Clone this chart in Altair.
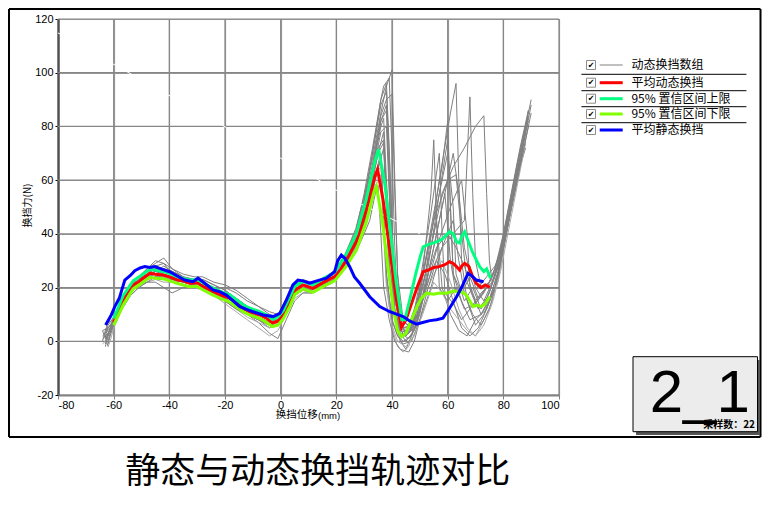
import altair as alt
import pandas as pd

# ---------------- data ----------------
X_TICKS = [-80, -60, -40, -20, 0, 20, 40, 60, 80, 100]
Y_TICKS = [-20, 0, 20, 40, 60, 80, 100, 120]

# shared x sampling of the first part of every dynamic trace
GRAY_X_A = [-60, -57, -54, -51, -48, -45, -42, -39, -35, -31, -28, -24, -20, -16,
            -12, -8, -4, -1, 2, 5, 8, 11, 15, 19, 23, 27, 30]

GRAY_START = [
    [(-63, 0), (-62, 3)],
    [(-62, -2), (-63, 2), (-61, 4)],
    [(-63, 3), (-62, 6)],
    [(-64, -1), (-62, 1)],
    [(-63, 1), (-64, 4), (-62, 5)],
    [(-62, -1), (-61, 3)],
    [(-63, 2), (-62, 5)],
    [(-64, 0), (-63, 4)],
    [(-62, 2), (-61, 6)],
    [(-63, -2), (-62, 2)],
    [(-64, 2), (-62, 4)],
    [(-63, 1), (-61, 5)],
    [(-62, -2), (-61, 1)],
    [(-63, 4), (-62, 7)],
    [(-64, 1), (-62, 3)],
    [(-63, -1), (-62, 3)],
    [(-62, 0), (-61, 4)],
    [(-63, 3), (-62, 5)],
]

GRAY_Y_A = [
    [8, 15, 20, 23, 26, 27, 26, 25, 23, 22, 22, 20, 18, 15, 12, 10, 8, 9, 15, 20, 22, 21, 22, 25, 31, 40, 50],
    [6, 13, 18, 21, 23, 24, 24, 23, 22, 21, 20, 18, 15, 12, 10, 8, 5, 6, 11, 17, 19, 18, 20, 23, 28, 36, 44],
    [9, 16, 21, 24, 27, 29, 31, 27, 24, 23, 23, 21, 19, 16, 13, 11, 9, 10, 16, 21, 23, 22, 23, 26, 32, 42, 54],
    [5, 12, 17, 20, 22, 23, 22, 22, 21, 20, 19, 17, 14, 11, 8, 5, 2, 4, 10, 16, 18, 18, 20, 22, 27, 34, 42],
    [7, 14, 19, 23, 25, 26, 25, 24, 23, 22, 21, 19, 17, 14, 11, 9, 7, 7, 12, 18, 20, 19, 21, 23, 28, 36, 47],
    [6, 13, 18, 22, 25, 28, 29, 25, 23, 23, 22, 20, 20, 18, 15, 13, 11, 10, 14, 19, 21, 20, 22, 25, 30, 38, 48],
    [8, 15, 19, 21, 22, 22, 20, 18, 20, 21, 20, 18, 16, 13, 10, 7, 3, 1, 8, 15, 18, 18, 20, 22, 27, 33, 40],
    [7, 14, 20, 23, 25, 27, 27, 26, 24, 22, 21, 19, 17, 14, 11, 9, 7, 9, 14, 19, 21, 20, 22, 24, 29, 38, 52],
    [9, 16, 21, 23, 24, 25, 26, 25, 23, 22, 22, 20, 18, 15, 12, 10, 8, 8, 13, 19, 21, 20, 21, 24, 29, 37, 45],
    [6, 12, 17, 20, 22, 24, 24, 23, 22, 21, 20, 19, 17, 14, 12, 10, 8, 9, 14, 19, 21, 20, 22, 25, 31, 40, 52],
    [7, 14, 19, 22, 24, 26, 28, 26, 24, 22, 21, 20, 18, 16, 13, 10, 8, 7, 12, 18, 20, 19, 21, 23, 28, 35, 44],
    [8, 15, 20, 23, 25, 26, 25, 24, 22, 21, 22, 19, 16, 13, 10, 8, 6, 7, 13, 18, 20, 19, 21, 24, 30, 39, 50],
    [5, 12, 18, 21, 24, 25, 24, 23, 21, 20, 20, 17, 15, 12, 9, 7, 5, 6, 11, 17, 19, 18, 20, 22, 28, 35, 46],
    [8, 15, 20, 24, 27, 30, 29, 27, 25, 24, 24, 22, 21, 19, 16, 13, 10, 9, 13, 19, 22, 21, 23, 26, 32, 41, 55],
    [7, 13, 18, 21, 23, 24, 23, 23, 22, 21, 20, 18, 16, 13, 11, 9, 7, 8, 13, 18, 20, 20, 22, 24, 29, 37, 48],
    [6, 14, 19, 22, 24, 25, 25, 24, 23, 22, 21, 18, 15, 12, 10, 8, 6, 6, 12, 18, 20, 19, 21, 24, 28, 36, 45],
    [8, 15, 20, 22, 24, 26, 26, 25, 23, 22, 21, 19, 17, 15, 12, 10, 8, 8, 14, 19, 21, 20, 22, 25, 30, 38, 50],
    [7, 14, 19, 22, 25, 27, 27, 26, 24, 23, 23, 21, 19, 16, 13, 11, 9, 9, 14, 19, 21, 21, 23, 25, 31, 40, 53],
]

GRAY_TAIL = [
    [(33, 65), (36, 82), (38, 88), (39, 60), (40, 30), (41, 12), (43, 4), (45, 2), (47, 6), (50, 22), (54, 48), (57, 70), (58, 40), (59, 18), (62, 14), (65, 8), (68, 12), (72, 18), (76, 22), (79, 30), (82, 45), (85, 62), (88, 80), (89, 86)],
    [(32, 52), (35, 64), (37, 72), (38, 50), (39, 25), (41, 8), (43, 0), (45, -3), (47, 2), (49, 12), (53, 30), (56, 45), (58, 20), (61, 10), (64, 4), (67, 2), (70, 8), (74, 12), (77, 20), (80, 35), (83, 52), (86, 66), (88, 74)],
    [(33, 68), (36, 85), (38, 95), (40, 101), (41, 60), (42, 25), (43, 8), (45, 2), (48, 5), (52, 25), (57, 60), (61, 85), (63, 96), (64, 60), (65, 30), (67, 15), (70, 6), (73, 10), (76, 18), (78, 22), (81, 40), (84, 58), (87, 72), (90, 88)],
    [(32, 48), (34, 58), (36, 62), (37, 40), (38, 20), (40, 5), (42, -2), (44, -4), (46, -2), (48, 5), (51, 15), (55, 25), (58, 30), (61, 22), (64, 12), (67, 5), (70, 2), (73, 8), (76, 15), (79, 28), (82, 45), (85, 60)],
    [(33, 62), (36, 78), (38, 80), (39, 55), (40, 30), (42, 10), (44, 2), (46, 4), (49, 15), (53, 35), (57, 55), (60, 70), (62, 50), (63, 25), (66, 15), (69, 20), (72, 12), (75, 18), (78, 28), (81, 42), (84, 60), (87, 76), (89, 84)],
    [(33, 60), (35, 70), (37, 78), (38, 55), (39, 30), (41, 12), (43, 5), (46, 3), (49, 10), (52, 20), (55, 28), (58, 35), (62, 40), (66, 45), (68, 91), (69, 55), (70, 30), (72, 20), (75, 22), (78, 30), (81, 44), (84, 60), (87, 72)],
    [(32, 45), (34, 55), (35, 58), (36, 40), (37, 20), (39, 8), (41, 0), (43, -3), (46, -4), (48, 0), (50, 8), (53, 20), (56, 30), (59, 25), (62, 15), (65, 5), (68, 2), (71, 5), (74, 12), (77, 20), (80, 34), (83, 50), (86, 65), (88, 72)],
    [(33, 70), (36, 88), (38, 93), (39, 70), (40, 40), (41, 15), (43, 6), (45, 4), (48, 8), (51, 25), (54, 55), (55, 75), (56, 45), (57, 20), (60, 15), (63, 20), (66, 12), (70, 14), (74, 20), (77, 26), (80, 38), (83, 55), (86, 70), (89, 82)],
    [(32, 55), (35, 72), (37, 75), (38, 50), (39, 25), (41, 10), (43, 3), (45, 0), (48, 4), (52, 20), (56, 40), (59, 55), (61, 30), (63, 18), (66, 22), (68, 28), (70, 20), (73, 15), (76, 22), (79, 32), (82, 48), (85, 62), (88, 78)],
    [(33, 66), (36, 84), (38, 90), (40, 92), (41, 55), (42, 25), (44, 8), (47, 4), (50, 12), (54, 30), (58, 50), (62, 70), (64, 55), (66, 35), (68, 25), (71, 20), (74, 24), (77, 28), (80, 36), (83, 52), (86, 68), (89, 84)],
    [(32, 50), (34, 62), (36, 68), (37, 45), (38, 25), (40, 8), (42, 2), (44, -1), (47, 0), (50, 8), (54, 20), (58, 35), (62, 45), (64, 30), (66, 18), (69, 10), (72, 6), (75, 12), (78, 24), (81, 40), (84, 58), (87, 70)],
    [(33, 64), (36, 80), (37, 83), (38, 60), (40, 28), (41, 10), (43, 3), (46, 1), (49, 6), (53, 28), (57, 55), (60, 75), (61, 50), (62, 25), (65, 15), (68, 8), (72, 10), (75, 15), (78, 26), (81, 42), (84, 56), (87, 70), (90, 85)],
    [(32, 52), (34, 62), (36, 65), (37, 45), (38, 22), (40, 6), (42, 0), (45, -2), (48, 2), (51, 10), (55, 22), (58, 18), (61, 12), (64, 8), (67, 4), (70, 2), (73, 6), (76, 14), (79, 26), (82, 42), (85, 58), (88, 74)],
    [(33, 72), (36, 90), (37, 95), (39, 98), (40, 70), (41, 35), (42, 12), (44, 5), (47, 5), (50, 18), (54, 42), (58, 65), (60, 82), (61, 50), (62, 25), (65, 18), (68, 24), (71, 16), (74, 20), (77, 27), (80, 40), (83, 56), (86, 72), (89, 86)],
    [(33, 60), (35, 70), (37, 74), (38, 50), (39, 28), (41, 10), (43, 4), (46, 3), (49, 8), (53, 22), (57, 38), (61, 50), (65, 60), (67, 40), (68, 20), (71, 12), (74, 16), (77, 24), (80, 38), (83, 54), (86, 68)],
    [(32, 50), (35, 66), (36, 70), (37, 48), (38, 25), (40, 8), (42, 2), (44, 0), (47, 2), (50, 10), (53, 25), (56, 35), (60, 40), (63, 35), (66, 28), (69, 18), (72, 10), (75, 16), (78, 25), (81, 40), (84, 55), (87, 70), (89, 80)],
    [(33, 64), (36, 82), (38, 86), (39, 60), (40, 32), (42, 12), (44, 5), (47, 6), (51, 20), (55, 40), (58, 55), (62, 65), (66, 72), (70, 80), (73, 84), (74, 55), (75, 30), (76, 22), (79, 30), (82, 46), (85, 62), (88, 78)],
    [(33, 70), (36, 90), (38, 96), (39, 72), (40, 45), (41, 20), (43, 8), (46, 6), (50, 18), (55, 45), (60, 60), (63, 62), (65, 40), (67, 22), (70, 14), (73, 18), (76, 24), (79, 34), (82, 50), (85, 66), (88, 80), (90, 90)],
]
GRAY_LIGHT = [3, 12]

WHITE_X = [-80, 0, 28, 43, 50]
WHITE_Y = [114.8, 68.2, 51.5, 44.0, 40.0]

RED_X = [-60, -58.5, -56.6, -55, -53, -51, -49.5, -47, -45, -42.3, -40, -37, -35, -32.7, -30, -28, -26, -24.3, -21, -18.3, -16, -13.5, -11, -7.5, -5, -3, -1, 1, 3.3, 5.1, 8, 11.6, 15.8, 19.4, 21.5, 23.6, 27.2, 30.8, 33.8, 34.8, 36.8, 39.2, 41.6, 43.4, 45, 47, 49, 51.2, 53, 55, 57, 59, 60.7, 62, 63, 64.3, 65, 66.1, 67.5, 69, 70.3, 72, 73.5, 75.1]
RED_Y = [7, 10, 15.4, 18.5, 21, 22, 23.5, 25.3, 25, 24.7, 24, 22.8, 22.5, 21.6, 21.8, 20.5, 19.5, 18.5, 17, 16, 14.5, 12.3, 11, 9.8, 8.5, 6.8, 7.5, 10, 14.7, 19, 21, 19.7, 22.2, 24.1, 26.5, 30.3, 37.1, 48.9, 61.3, 64, 52.6, 34, 15.4, 5.2, 8, 14, 20, 25.9, 26.5, 27.5, 27.8, 28.5, 29.6, 29, 28, 26.5, 28, 29, 28, 24, 21.6, 20, 21, 20.1]

UP_X = [-60, -56.6, -53, -49.5, -47, -45, -42.3, -40, -37, -32.7, -30, -28, -24.3, -21, -18.3, -13.5, -11, -7.5, -5, -3, -1, 1, 3.3, 5.1, 8, 11.6, 15.8, 19.4, 23.6, 27.2, 30.8, 33.8, 35.2, 37.4, 39.5, 41.5, 43.5, 44.6, 46.5, 48.5, 50, 51.2, 53, 56, 58, 60.7, 62, 63.2, 64.3, 65, 66.1, 67.5, 69.1, 71.5, 73, 74, 75.4]
UP_Y = [8.5, 17, 22.5, 25, 26.8, 26.5, 26, 25.3, 24, 22.8, 23, 21.8, 19.8, 18.3, 17.3, 13.6, 12.3, 11, 9.8, 8.2, 9, 11.5, 16.5, 20.5, 22.3, 21, 23.6, 25.7, 32.5, 40, 53, 67, 71.5, 58.8, 40, 22, 8, 8, 16, 25, 31, 35.2, 36, 37, 38, 40.8, 40, 37, 36.6, 39, 40.8, 37, 32.8, 27.8, 26, 27, 23.5]

LO_X = [-60, -56.6, -53, -49.5, -47, -45, -42.3, -40, -37, -32.7, -30, -28, -24.3, -21, -18.3, -13.5, -11, -7.5, -5, -3, -1, 1, 3.3, 5.1, 8, 11.6, 15.8, 19.4, 23.6, 27.2, 30.8, 33.5, 34.4, 36.5, 38.5, 40.5, 42, 43.4, 45, 47, 49, 50.5, 52.4, 55, 57, 59.6, 62.5, 64, 65, 66.7, 68, 69.1, 70.5, 72.1, 73.5, 75.1]
LO_Y = [6, 13.5, 19.5, 22, 23.8, 23.5, 23.3, 22.6, 21.5, 20.3, 20.5, 19.2, 17.2, 15.7, 14.7, 11, 9.7, 8.5, 7, 5.5, 6, 8.5, 13, 17.5, 19.5, 18.2, 20.7, 22.5, 28, 34, 44.5, 55.5, 57.6, 45, 28, 12, 4, 1.7, 3, 8, 13, 16, 17.9, 17.5, 18, 17.9, 18.8, 18, 18.5, 17.2, 15, 12.9, 13.5, 12.9, 14, 16.6]

BLUE_X = [-62.9, -61, -59.6, -58, -56, -54, -52.4, -50.5, -48.8, -47, -45.2, -42.5, -39.9, -37, -34.5, -31.5, -29.7, -27.3, -24.3, -22, -19.5, -17, -14.7, -12, -9.9, -6.3, -2.7, -0.3, 2.1, 4.4, 6.2, 8, 10.4, 13, 16.4, 19.4, 20.5, 21.8, 23, 24.8, 26.5, 28.4, 32, 35.6, 39.2, 44, 46.5, 48.8, 51, 53.6, 56, 58.3, 60.5, 63.2, 65, 67.3, 68.5, 70.3, 72.9]
BLUE_Y = [6.1, 9.5, 12.9, 16, 22.8, 24.5, 26.3, 27.3, 27.8, 27.5, 27.8, 26.8, 25.9, 24.2, 22.8, 22.2, 23.5, 21.6, 19.1, 18.5, 17.2, 15, 12.9, 11.8, 11, 9.8, 9.2, 10.4, 15.4, 21, 22.8, 22.5, 21.6, 22.5, 23.5, 25.9, 30, 32.1, 31, 27.8, 24, 21.6, 16.6, 12.9, 11, 9.2, 7.5, 6.4, 7, 7.7, 8, 8.6, 12, 16.6, 20, 25.3, 24.5, 22.8, 22.2]

LEGEND_LABELS = ["动态换挡数组", "平均动态换挡", "95% 置信区间上限", "95% 置信区间下限", "平均静态换挡"]
LEGEND_COLORS = ["#808080", "#ff0000", "#00ff80", "#80ff00", "#0000ff"]
LEGEND_WIDTHS = [1, 3, 3, 3, 3]

TITLE = "静态与动态换挡轨迹对比"
X_TITLE_MAIN = "换挡位移"
X_TITLE_UNIT = "(mm)"
Y_TITLE = "换挡力(N)"
BOX_TEXT = "2_1"
SAMPLE_TEXT = "采样数：22"

# ---------------- build tables ----------------
rows = []
for i in range(len(GRAY_Y_A)):
    pts = list(GRAY_START[i]) + list(zip(GRAY_X_A, GRAY_Y_A[i])) + list(GRAY_TAIL[i])
    col = "#a8a8a8" if i in GRAY_LIGHT else "#808080"
    for k, (x, y) in enumerate(pts):
        rows.append({"trace": i, "idx": k, "x": x, "y": y, "c": col})
gray_df = pd.DataFrame(rows)

xgrid_df = pd.DataFrame({"gx": X_TICKS})
ygrid_df = pd.DataFrame({"gy": Y_TICKS})


def series_df(xs, ys):
    return pd.DataFrame({"x": xs, "y": ys, "idx": list(range(len(xs)))})


xs = alt.Scale(domain=[-80, 100], nice=False, zero=False)
ys = alt.Scale(domain=[-20, 120], nice=False, zero=False)

x_axis = alt.Axis(values=X_TICKS, title=None, grid=True, gridColor="#9a9a9a", gridWidth=1.2,
                  gridOpacity=1, domainColor="#808080", domainWidth=2, tickColor="#808080",
                  tickSize=4, labelPadding=0, labelFont="Liberation Sans",
                  labelFontSize=11, labelColor="#000000", labelExpr="'' + datum.value")
y_axis = alt.Axis(values=Y_TICKS, title=None, grid=True, gridColor="#9a9a9a", gridWidth=1.2,
                  gridOpacity=1, domainColor="#000000", domainWidth=2, tickColor="#000000",
                  tickSize=3, labelPadding=2, labelFont="Liberation Sans",
                  labelFontSize=11, labelColor="#000000", labelExpr="'' + datum.value")

# explicit grid rules as well (drawn below the traces)
xgrid = alt.Chart(xgrid_df).mark_rule(color="#868686", strokeWidth=1.2, opacity=1).encode(
    x=alt.X("gx:Q", scale=xs, axis=x_axis),
    y=alt.value(0), y2=alt.value(376),
)
ygrid = alt.Chart(ygrid_df).mark_rule(color="#868686", strokeWidth=1.2, opacity=1).encode(
    y=alt.Y("gy:Q", scale=ys, axis=y_axis),
    x=alt.value(0), x2=alt.value(501),
)

base_gray = alt.Chart(gray_df).mark_line(strokeWidth=1, clip=True).encode(
    x=alt.X("x:Q", scale=xs, axis=x_axis),
    y=alt.Y("y:Q", scale=ys, axis=y_axis),
    detail="trace:N",
    order="idx:Q",
    color=alt.Color("c:N", scale=None),
)


def mean_line(xv, yv, color, width):
    return alt.Chart(series_df(xv, yv)).mark_line(
        strokeWidth=width, color=color, clip=True
    ).encode(x=alt.X("x:Q", scale=xs, axis=x_axis), y=alt.Y("y:Q", scale=ys, axis=y_axis),
             order="idx:Q")


white = mean_line(WHITE_X, WHITE_Y, "#ffffff", 1)
red = mean_line(RED_X, RED_Y, "#ff0000", 3)
up = mean_line(UP_X, UP_Y, "#00ff80", 3)
lo = mean_line(LO_X, LO_Y, "#80ff00", 3)
blue = mean_line(BLUE_X, BLUE_Y, "#0000ff", 3)

one = pd.DataFrame({"a": [0]})


def rect(x1, y1, x2, y2, **kw):
    return alt.Chart(one).mark_rect(**kw).encode(
        x=alt.value(x1), x2=alt.value(x2), y=alt.value(y1), y2=alt.value(y2))


def text(x, y, s, **kw):
    return alt.Chart(one).mark_text(**kw).encode(
        x=alt.value(x), y=alt.value(y), text=alt.value(s))


def rule(x1, x2, y, **kw):
    return alt.Chart(one).mark_rule(**kw).encode(
        x=alt.value(x1), x2=alt.value(x2), y=alt.value(y))


layers = [xgrid, ygrid, base_gray, white, red, up, lo, blue]

# outer frame (four edges)
layers.append(rule(-49, 702.5, -10, color="#000000", strokeWidth=2))
layers.append(rule(-49, 702.5, 418, color="#000000", strokeWidth=2))
layers.append(alt.Chart(one).mark_rule(color="#000000", strokeWidth=2).encode(
    x=alt.value(-49), y=alt.value(-10), y2=alt.value(418)))
layers.append(alt.Chart(one).mark_rule(color="#000000", strokeWidth=2).encode(
    x=alt.value(702.5), y=alt.value(-10), y2=alt.value(418)))

# legend
row_y = [46, 63.7, 79.7, 95, 111]
for sy in [55.3, 71.7, 87.7, 103.7]:
    layers.append(rule(523.4, 688.4, sy, color="#000000", strokeWidth=1))
for i, lab in enumerate(LEGEND_LABELS):
    yy = row_y[i]
    layers.append(rect(528.5, yy - 4.5, 537.5, yy + 4.5, fill="#ffffff", stroke="#8c8c8c", strokeWidth=1))
    layers.append(text(533, yy + 0.5, "✔", font="DejaVu Sans", fontSize=8, color="#000000",
                       align="center", baseline="middle"))
    layers.append(rule(541.7, 564.7, yy, color=LEGEND_COLORS[i], strokeWidth=LEGEND_WIDTHS[i]))
    layers.append(text(573.4, yy, lab, font="Noto Sans CJK SC", fontSize=12, color="#000000",
                       align="left", baseline="middle"))

# 2_1 box
layers.append(rect(578, 341, 702, 416, fill="#555555"))
layers.append(rect(575, 337.7, 699.5, 412.7, fill="#ececec", stroke="#000000", strokeWidth=1))
layers.append(text(591.7, 392.7, BOX_TEXT, font="Liberation Sans", fontSize=60, color="#000000",
                   align="left", baseline="alphabetic"))
layers.append(text(697, 406, SAMPLE_TEXT, font="Noto Sans CJK SC", fontSize=10, fontWeight="bold",
                   color="#000000", align="right", baseline="middle"))

# axis titles and caption
layers.append(text(217.7, 396, X_TITLE_MAIN, font="Noto Sans CJK SC", fontSize=10.5, color="#000000",
                   align="left", baseline="middle"))
layers.append(text(260, 397, X_TITLE_UNIT, font="Liberation Sans", fontSize=9.5, color="#000000",
                   align="left", baseline="middle"))
layers.append(text(-30.3, 186.5, Y_TITLE, font="Noto Sans CJK SC", fontSize=10, color="#000000",
                   align="center", baseline="middle", angle=270))
layers.append(text(259.7, 453, TITLE, font="Noto Sans CJK SC", fontSize=35, color="#000000",
                   align="center", baseline="middle"))

chart = alt.layer(*layers).properties(
    width=501, height=376,
    autosize=alt.AutoSizeParams(type="none"),
    padding={"left": 50, "top": 11, "right": 203, "bottom": 107},
).configure_view(stroke="#808080", strokeWidth=1)

chart.save("out.html", embed_options={"renderer": "svg", "actions": False})
